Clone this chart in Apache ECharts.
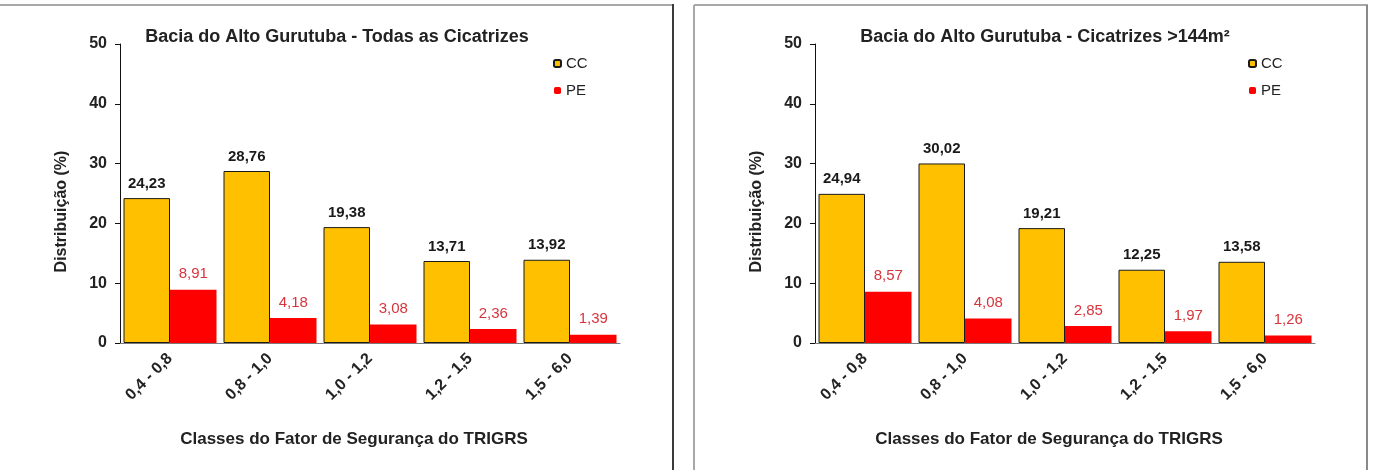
<!DOCTYPE html>
<html>
<head>
<meta charset="utf-8">
<script src="https://cdn.jsdelivr.net/npm/echarts@6/dist/echarts.min.js"></script>
<style>
  html, body { margin: 0; padding: 0; background: #fff; }
  #chart { width: 1373px; height: 470px; }
</style>
</head>
<body>
<div id="chart"></div>
<script>
// Classes of the TRIGRS safety factor
const categories = ['0,4 - 0,8', '0,8 - 1,0', '1,0 - 1,2', '1,2 - 1,5', '1,5 - 6,0'];

// All scars
const ccAll = [24.23, 28.76, 19.38, 13.71, 13.92];
const peAll = [8.91, 4.18, 3.08, 2.36, 1.39];

// Scars larger than 144 m²
const cc144 = [24.94, 30.02, 19.21, 12.25, 13.58];
const pe144 = [8.57, 4.08, 2.85, 1.97, 1.26];

const titles = [
  'Bacia do Alto Gurutuba - Todas as Cicatrizes',
  'Bacia do Alto Gurutuba - Cicatrizes >144m²'
];
const xName = 'Classes do Fator de Segurança do TRIGRS';
const yName = 'Distribuição (%)';

const FONT = '"Liberation Sans", Arial, sans-serif';
const fmt = p => p.value.toFixed(2).replace('.', ',');

const grids = [
  { left: 120, top: 44, width: 500, height: 299 },
  { left: 815, top: 44, width: 500, height: 299 }
];

function xAxisFor(i) {
  return {
    type: 'category',
    gridIndex: i,
    data: categories,
    axisLine: { lineStyle: { color: '#7a7a7a', width: 1 } },
    axisTick: { length: 5, lineStyle: { color: '#7a7a7a' } },
    axisLabel: {
      rotate: 45, margin: 13, color: '#222',
      fontFamily: FONT, fontWeight: 'bold', fontSize: 16
    },
    name: xName,
    nameLocation: 'middle',
    nameGap: 88,
    nameTextStyle: {
      color: '#222', fontFamily: FONT, fontWeight: 'bold', fontSize: 17,
      padding: [0, 32, 0, 0]
    }
  };
}

function yAxisFor(i) {
  return {
    type: 'value',
    gridIndex: i,
    min: 0, max: 50, interval: 10,
    splitLine: { show: false },
    axisLine: { show: true, lineStyle: { color: '#111', width: 1 } },
    axisTick: { show: true, length: 5, lineStyle: { color: '#111' } },
    axisLabel: {
      margin: 13, color: '#222',
      fontFamily: FONT, fontWeight: 'bold', fontSize: 16
    },
    name: yName,
    nameLocation: 'middle',
    nameGap: 50,
    nameRotate: 90,
    nameTextStyle: {
      color: '#222', fontFamily: FONT, fontWeight: 'bold', fontSize: 16,
      padding: [0, 36, 0, 0]
    }
  };
}

function barsFor(i, cc, pe) {
  return [
    {
      name: 'CC', type: 'bar', xAxisIndex: i, yAxisIndex: i,
      data: cc,
      barGap: '0%', barCategoryGap: '7%',
      itemStyle: { color: '#FFC000', borderColor: '#1a1a1a', borderWidth: 1 },
      label: {
        show: true, position: 'top', distance: 7, formatter: fmt,
        color: '#1a1a1a', fontFamily: FONT, fontWeight: 'bold', fontSize: 15
      }
    },
    {
      name: 'PE', type: 'bar', xAxisIndex: i, yAxisIndex: i,
      data: pe,
      barGap: '0%', barCategoryGap: '7%',
      itemStyle: { color: '#FF0000' },
      label: {
        show: true, position: 'top', distance: 8, formatter: fmt,
        color: '#d8343c', fontFamily: FONT, fontSize: 15
      }
    }
  ];
}

function legendFor(left) {
  return {
    data: ['CC', 'PE'],
    orient: 'vertical',
    left: left, top: 50,
    itemWidth: 7, itemHeight: 7,
    itemGap: 10,
    textStyle: { color: '#222', fontFamily: FONT, fontSize: 15, lineHeight: 17 },
    selectedMode: false
  };
}

const panelLine = (x1, y1, x2, y2, color) => ({
  type: 'line',
  shape: { x1, y1, x2, y2 },
  style: { stroke: color, lineWidth: 2 },
  silent: true
});

const chart = echarts.init(document.getElementById('chart'));
chart.setOption({
  animation: false,
  backgroundColor: '#fff',
  title: [
    {
      text: titles[0], left: 332, top: 23, textAlign: 'center',
      textStyle: { color: '#222', fontFamily: FONT, fontWeight: 'bold', fontSize: 18 }
    },
    {
      text: titles[1], left: 1040, top: 23, textAlign: 'center',
      textStyle: { color: '#222', fontFamily: FONT, fontWeight: 'bold', fontSize: 18 }
    }
  ],
  legend: [legendFor(548), legendFor(1243)],
  grid: grids,
  xAxis: [xAxisFor(0), xAxisFor(1)],
  yAxis: [yAxisFor(0), yAxisFor(1)],
  series: [...barsFor(0, ccAll, peAll), ...barsFor(1, cc144, pe144)],
  graphic: [
    // frame of the first panel
    panelLine(0, 5, 674, 5, '#a8a8a8'),
    panelLine(673, 4, 673, 470, '#3a3a3a'),
    // frame of the second panel
    panelLine(694, 5, 1368, 5, '#a8a8a8'),
    panelLine(694, 5, 694, 470, '#a8a8a8'),
    panelLine(1367, 5, 1367, 470, '#8a8a8a')
  ]
});
</script>
</body>
</html>
